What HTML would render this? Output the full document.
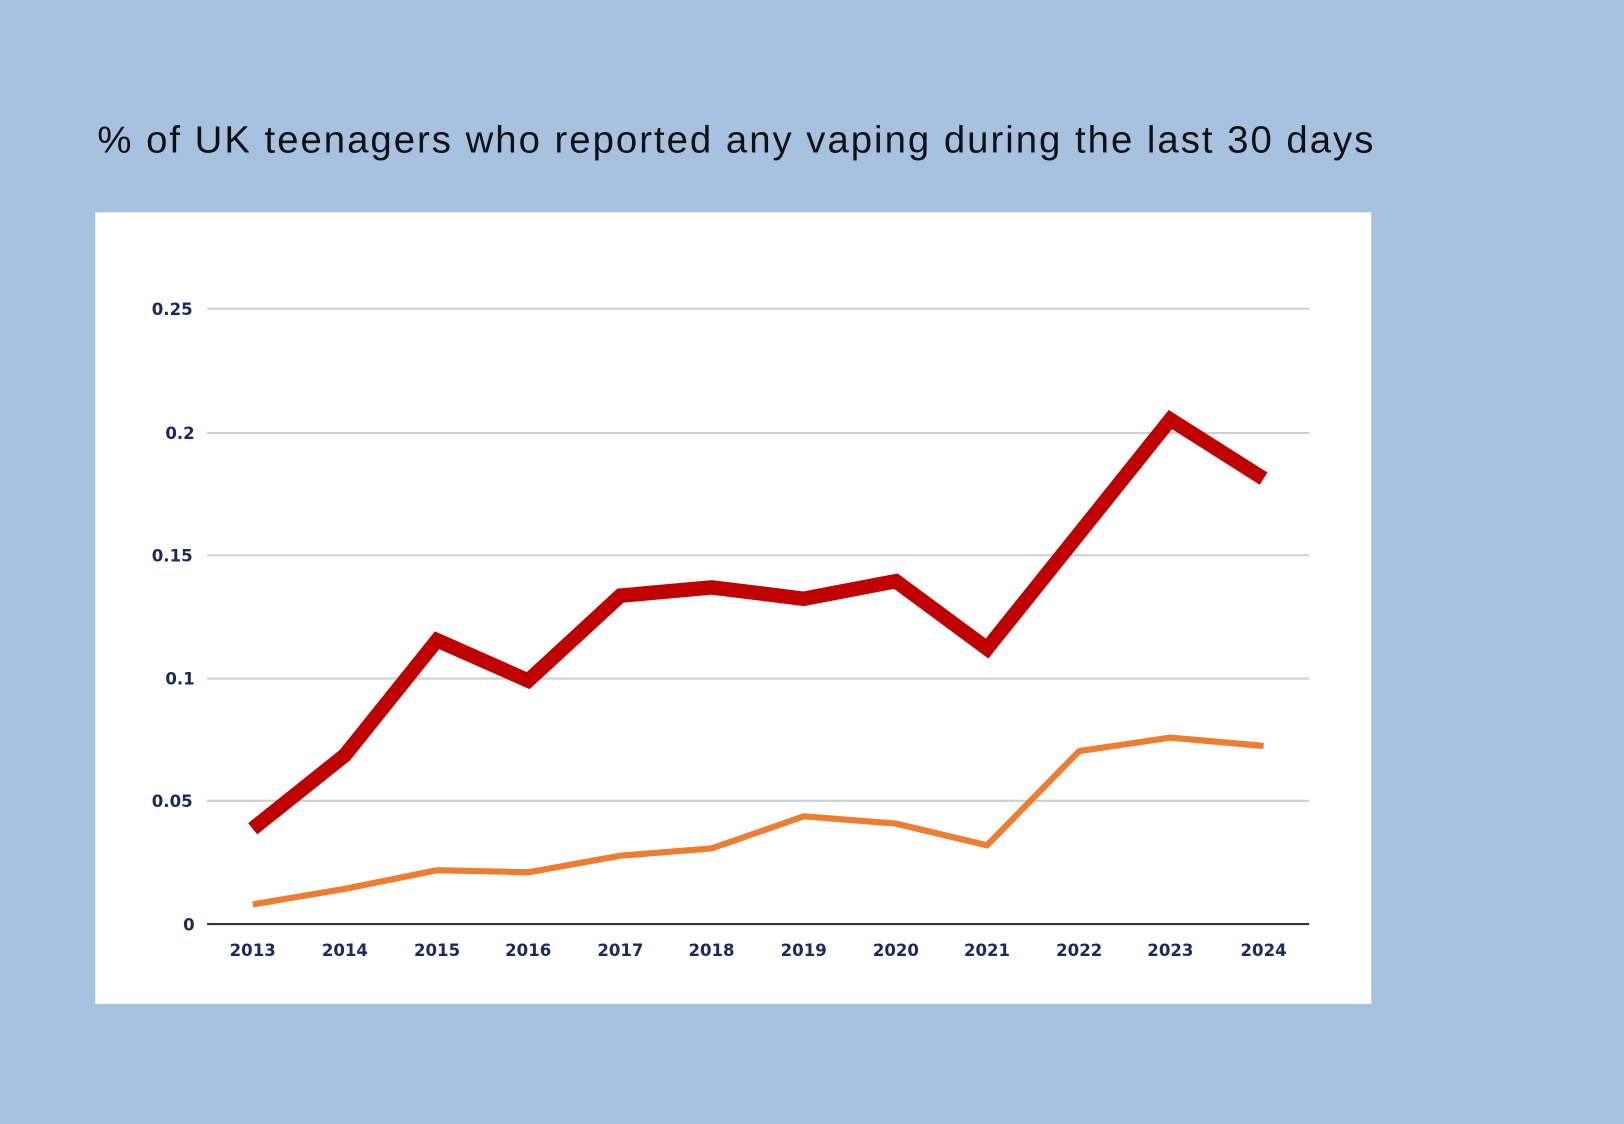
<!DOCTYPE html>
<html><head><meta charset="utf-8"><style>
html,body{margin:0;padding:0;background:#a9c1e1;}
svg{display:block;}
</style></head><body>
<svg width="1624" height="1124" viewBox="0 0 1568 1085" preserveAspectRatio="none" xmlns="http://www.w3.org/2000/svg">
<rect x="0" y="0" width="1568" height="1085" fill="#a9c1e1"/>
<text x="94" y="147" font-family="Liberation Sans, sans-serif" font-size="37" fill="#111" textLength="1232" lengthAdjust="spacing">% of UK teenagers who reported any vaping during the last 30 days</text>
<rect x="92" y="205" width="1232" height="764" fill="#fff"/>
<g stroke="#cfcfcf" stroke-width="2">
<line x1="200" y1="298" x2="1264" y2="298"/>
<line x1="200" y1="418" x2="1264" y2="418"/>
<line x1="200" y1="536" x2="1264" y2="536"/>
<line x1="200" y1="655" x2="1264" y2="655"/>
<line x1="200" y1="773" x2="1264" y2="773"/>
</g>
<line x1="200" y1="892" x2="1264" y2="892" stroke="#333" stroke-width="2"/>
<g font-family="DejaVu Sans, sans-serif" font-weight="bold" font-size="16" fill="#1a2a5e" text-anchor="end">
<text x="186" y="304">0.25</text>
<text x="188" y="424">0.2</text>
<text x="186" y="542">0.15</text>
<text x="188" y="661">0.1</text>
<text x="186" y="779">0.05</text>
<text x="188" y="898">0</text>
</g>
<g font-family="DejaVu Sans, sans-serif" font-weight="bold" font-size="16" fill="#1a2a5e" text-anchor="middle" letter-spacing="0">
<text x="244" y="923">2013</text><text x="333" y="923">2014</text><text x="422" y="923">2015</text><text x="510" y="923">2016</text><text x="599" y="923">2017</text><text x="687" y="923">2018</text><text x="776" y="923">2019</text><text x="865" y="923">2020</text><text x="953" y="923">2021</text><text x="1042" y="923">2022</text><text x="1130" y="923">2023</text><text x="1220" y="923">2024</text>
</g>
<polyline fill="none" stroke="#ed7d31" stroke-width="6" stroke-linejoin="round" points="244,873 333,858 422,840 510,842 599,826 687,819 776,788 865,795 953,816 1042,725 1130,712 1220,720"/>
<polyline fill="none" stroke="#c00000" stroke-width="14" stroke-linejoin="miter" points="244,800 333,729 422,618 510,657 599,575 687,567 776,578 865,561 953,626 1042,515 1130,405 1220,462"/>
</svg>
</body></html>
